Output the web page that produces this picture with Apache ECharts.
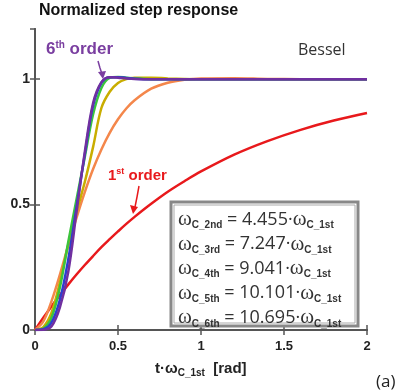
<!DOCTYPE html>
<html>
<head>
<meta charset="utf-8">
<script src="https://cdn.jsdelivr.net/npm/echarts@6/dist/echarts.min.js"></script>
<style>
html,body{margin:0;padding:0;background:#fff;}
#c{width:401px;height:390px;}
</style>
</head>
<body>
<div id="c"></div>
<script>
// x values: t·ω_C_1st [rad]
const tVals = [0,0.05,0.1,0.15,0.2,0.25,0.3,0.35,0.4,0.45,0.5,0.55,0.6,0.7,0.8,0.9,1.0,1.2,1.4,1.6,1.8,2.0];
const order1 = [0,0.049,0.095,0.139,0.181,0.221,0.259,0.295,0.330,0.362,0.393,0.423,0.451,0.503,0.551,0.593,0.632,0.699,0.753,0.798,0.835,0.865];
const order2 = [0,0.034,0.116,0.221,0.336,0.447,0.550,0.642,0.720,0.786,0.840,0.883,0.916,0.962,0.986,0.998,1.003,1.004,1.001,1.0,1.0,1.0];
const order3 = [0,0.012,0.07,0.19,0.34,0.47,0.59,0.73,0.885,0.95,0.985,1.0,1.006,1.006,1.003,1.001,1.0,1.0,1.0,1.0,1.0,1.0];
const order4 = [0,0.006,0.05,0.17,0.35,0.52,0.69,0.86,0.965,1.005,1.009,1.006,1.003,1.0,1.0,1.0,1.0,1.0,1.0,1.0,1.0,1.0];
const order5 = [0,0.003,0.03,0.12,0.28,0.49,0.70,0.895,0.985,1.008,1.008,1.005,1.002,1.0,1.0,1.0,1.0,1.0,1.0,1.0,1.0,1.0];
const order6 = [0,0.001,0.015,0.09,0.23,0.47,0.71,0.905,0.988,1.008,1.006,1.003,1.001,1.0,1.0,1.0,1.0,1.0,1.0,1.0,1.0,1.0];
const seriesValues = [order1, order2, order3, order4, order5, order6];
const seriesColors = ['#e8191c','#f4874b','#c9ad00','#3cc43c','#2b3fd0','#7030a0'];
const xTicks = ['0','0.5','1','1.5','2'];
const yTicks = ['0','0.5','1'];
const ratioLabels = ['2nd','3rd','4th','5th','6th'];
const ratioValues = ['4.455','7.247','9.041','10.101','10.695'];

const chart = echarts.init(document.getElementById('c'), null, {renderer:'canvas'});

const axisCommon = {
  type:'value', min:0,
  splitLine:{show:false},
  axisLine:{show:true, lineStyle:{color:'#555', width:2}},
  axisTick:{show:true, inside:true, length:5, lineStyle:{color:'#555', width:1.5}}
};

const series = seriesValues.map((ys, i) => ({
  type:'line',
  data: tVals.map((x, j) => [x, ys[j]]),
  showSymbol:false,
  smooth:0.35,
  z: 2 + i,
  lineStyle:{color:seriesColors[i], width:2.5},
  emphasis:{disabled:true}
}));

const wFont = '"Liberation Serif", serif';
const sFont = '"Liberation Sans", Arial, sans-serif';
const boxTexts = ratioLabels.map((lab, i) => ({
  type:'text',
  left: 178, top: 209 + i*24.6,
  z: 110,
  style:{
    text: '{w|ω}{s|C_' + lab + '}{t| = ' + ratioValues[i] + '·}{w|ω}{s|C_1st}',
    rich:{
      w:{font:'21px ' + wFont, fill:'#333'},
      s:{font:'bold 10px ' + sFont, fill:'#333', padding:[12,0,0,0]},
      t:{font:'18px "Open Sans", sans-serif', fill:'#333'}
    }
  }
}));

const option = {
  animation:false,
  backgroundColor:'#fff',
  grid:{left:35, right:34, top:29, bottom:60, outerBoundsMode:'none', containLabel:false},
  xAxis:[
    Object.assign({}, axisCommon, {max:2, interval:0.5, position:'bottom',
      axisLabel:{color:'#222', fontWeight:'bold', fontSize:13, fontFamily:sFont, margin:10,
        formatter:(v) => xTicks[Math.round(v*2)] || ''}}),
    Object.assign({}, axisCommon, {max:2, interval:0.5, position:'top', axisLabel:{show:false}})
  ],
  yAxis:[
    Object.assign({}, axisCommon, {max:1.2, interval:0.5, position:'left',
      axisLabel:{color:'#222', fontWeight:'bold', fontSize:14, fontFamily:sFont, margin:5, showMaxLabel:false,
        formatter:(v) => yTicks[Math.round(v*2)] || ''}}),
    Object.assign({}, axisCommon, {max:1.2, interval:0.5, position:'right', axisLabel:{show:false}})
  ],
  series: series,
  graphic:[
    {type:'text', left:39, top:3, style:{text:'Normalized step response', font:'bold 16px ' + sFont, fill:'#111'}},
    {type:'text', left:298, top:42, style:{text:'Bessel', font:'16px "Open Sans", sans-serif', fill:'#333'}},
    {type:'text', left:46, top:40, z:120, style:{
      text:'{n|6}{p|th}{n| order}',
      rich:{n:{font:'bold 17px ' + sFont, fill:'#7a3ea0'}, p:{font:'bold 10px ' + sFont, fill:'#7a3ea0', padding:[0,0,9,0]}}
    }},
    {type:'polyline', z:120, shape:{points:[[98,61],[100,68],[102,74]]}, style:{stroke:'#7a3ea0', lineWidth:1.5, fill:null}},
    {type:'polygon', z:120, shape:{points:[[98,72],[106,71],[103,79]]}, style:{fill:'#7a3ea0'}},
    {type:'text', left:108, top:167, z:120, style:{
      text:'{n|1}{p|st}{n| order}',
      rich:{n:{font:'bold 15px ' + sFont, fill:'#e8191c'}, p:{font:'bold 9px ' + sFont, fill:'#e8191c', padding:[0,0,9,0]}}
    }},
    {type:'polyline', z:120, shape:{points:[[139,186],[137,197],[135,207]]}, style:{stroke:'#e8191c', lineWidth:1.5, fill:null}},
    {type:'polygon', z:120, shape:{points:[[130,205],[138,207],[133,214]]}, style:{fill:'#e8191c'}},
    {type:'rect', z:100, shape:{x:171, y:202, width:187, height:124}, style:{fill:'#fff', stroke:'#888', lineWidth:3}},
    {type:'rect', z:101, shape:{x:174, y:205, width:181, height:118}, style:{fill:'none', stroke:'#aaa', lineWidth:1}},
    ...boxTexts,
    {type:'text', left:155, top:361, style:{
      text:'{a|t·ω}{s|C_1st}{a|  [rad]}',
      rich:{a:{font:'bold 15px ' + sFont, fill:'#222'}, s:{font:'bold 10px ' + sFont, fill:'#222', padding:[10,0,0,0]}}
    }},
    {type:'text', left:376, top:374, style:{text:'(a)', font:'17px "Open Sans", sans-serif', fill:'#222'}}
  ]
};
chart.setOption(option);
</script>
</body>
</html>
